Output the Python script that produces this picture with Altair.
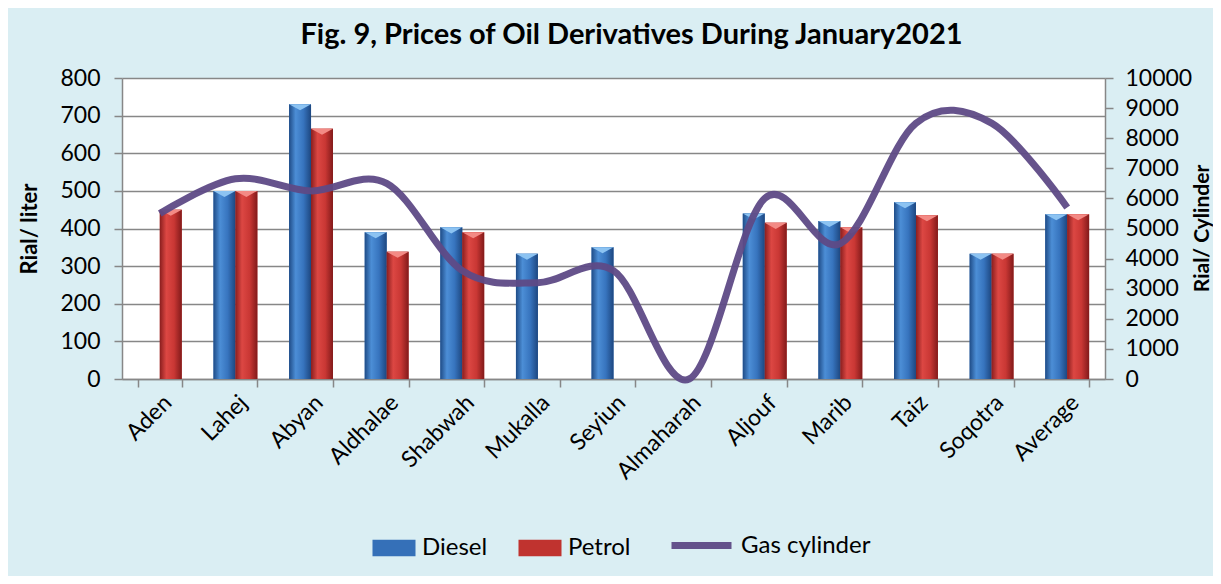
import altair as alt
import pandas as pd

categories = ["Aden", "Lahej", "Abyan", "Aldhalae", "Shabwah", "Mukalla", "Seyiun",
              "Almaharah", "Aljouf", "Marib", "Taiz", "Soqotra", "Average"]
diesel = [None, 500, 730, 390, 403, 333, 350, None, 440, 420, 470, 333, 438]
petrol = [450, 500, 665, 338, 390, None, None, None, 415, 403, 435, 333, 438]
gas = [5500, 6650, 6250, 6500, 3600, 3200, 3600, 0, 6000, 4500, 8500, 8500, 5700]
series_names = ["Diesel", "Petrol"]
left_ticks = [0, 100, 200, 300, 400, 500, 600, 700, 800]
right_ticks = [0, 1000, 2000, 3000, 4000, 5000, 6000, 7000, 8000, 9000, 10000]

rows = []
for c, d, p in zip(categories, diesel, petrol):
    if d is not None:
        rows.append({"cat": c, "series": "Diesel", "value": d})
    if p is not None:
        rows.append({"cat": c, "series": "Petrol", "value": p})
bars_df = pd.DataFrame(rows)
gas_df = pd.DataFrame({"cat": categories, "gas": gas, "series": "Gas cylinder"})

FONT = "Lato"
GRID = "#878787"
LBL = 23

x_enc = alt.X("cat:N", sort=categories,
              scale=alt.Scale(paddingInner=0.42, paddingOuter=0.21),
              axis=alt.Axis(title=None, labelAngle=315, labelFontSize=LBL, labelFont=FONT,
                            labelColor="black", tickBand="extent", tickSize=8,
                            labelPadding=4, domainColor=GRID, tickColor=GRID,
                            domainWidth=1.5, tickWidth=1.5, grid=False))
xoff = alt.XOffset("series:N", scale=alt.Scale(domain=series_names, paddingInner=0, paddingOuter=0))
y_left = alt.Y("value:Q", scale=alt.Scale(domain=[0, 800], nice=False),
               axis=alt.Axis(title="Rial/ liter", values=left_ticks, labelFontSize=LBL,
                             labelFont=FONT, labelColor="black", titleFont=FONT,
                             titleFontSize=22, titleFontWeight="bold", titleColor="black",
                             titlePadding=18, tickSize=8, labelPadding=14,
                             domainColor=GRID, tickColor=GRID, gridColor=GRID,
                             gridWidth=1.5, domainWidth=1.5, tickWidth=1.5))

base = alt.Chart(bars_df)

solid = base.mark_bar().encode(
    x=x_enc, xOffset=xoff, y=y_left,
    color=alt.Color("series:N", scale=alt.Scale(domain=series_names, range=["#3570B8", "#C0332F"]),
                    legend=alt.Legend(title=None, orient="none", legendX=250, legendY=448,
                                      direction="horizontal", labelFontSize=24, labelFont=FONT,
                                      labelColor="black",
                                      symbolType="M-1,-0.38h2v0.76h-2z", symbolSize=1850,
                                      symbolOpacity=1, symbolStrokeWidth=0,
                                      labelOffset=6, columnPadding=30))
)

blue_grad = alt.Gradient(gradient="linear", x1=0, x2=1, y1=0, y2=0,
                         stops=[alt.GradientStop(offset=0, color="#1F4C87"),
                                alt.GradientStop(offset=0.3, color="#4C8ED6"),
                                alt.GradientStop(offset=0.65, color="#3774BE"),
                                alt.GradientStop(offset=1, color="#1D4780")])
red_grad = alt.Gradient(gradient="linear", x1=0, x2=1, y1=0, y2=0,
                        stops=[alt.GradientStop(offset=0, color="#8A1E1E"),
                               alt.GradientStop(offset=0.3, color="#DC4743"),
                               alt.GradientStop(offset=0.65, color="#C93734"),
                               alt.GradientStop(offset=1, color="#821A1A")])

grad_blue = base.transform_filter(alt.datum.series == "Diesel").mark_bar(fill=blue_grad).encode(
    x=x_enc, xOffset=xoff, y=y_left)
grad_red = base.transform_filter(alt.datum.series == "Petrol").mark_bar(fill=red_grad).encode(
    x=x_enc, xOffset=xoff, y=y_left)

tri = base.mark_point(shape="M-1,0L1,0L0,0.55Z", filled=True, size=480, opacity=1,
                      strokeWidth=0).encode(
    x=x_enc, xOffset=xoff, y=y_left,
    fill=alt.Fill("series:N", scale=alt.Scale(domain=series_names, range=["#8CC3F2", "#F38A85"]),
                  legend=None))

bars = alt.layer(solid, grad_blue, grad_red, tri)

line = alt.Chart(gas_df).mark_line(interpolate="cardinal", strokeWidth=7, opacity=0.95).encode(
    x=alt.X("cat:N", sort=categories),
    y=alt.Y("gas:Q", scale=alt.Scale(domain=[0, 10000], nice=False),
            axis=alt.Axis(title="Rial/ Cylinder", orient="right", values=right_ticks,
                          format="d",
                          labelFontSize=LBL, labelFont=FONT, labelColor="black",
                          titleFont=FONT, titleFontSize=21, titleFontWeight="bold",
                          titleColor="black", titleAngle=270, titleX=97, titleY=150,
                          titleAlign="center", titleBaseline="middle",
                          tickSize=8, labelPadding=12, grid=False,
                          domainColor=GRID, tickColor=GRID, domainWidth=1.5, tickWidth=1.5)),
    stroke=alt.Stroke("series:N", scale=alt.Scale(domain=["Gas cylinder"], range=["#5E4A86"]),
                      legend=alt.Legend(title=None, orient="none", legendX=546, legendY=434,
                                        labelFontSize=24, labelFont=FONT, labelColor="black",
                                        symbolType="stroke", symbolSize=3600,
                                        symbolStrokeWidth=7, labelOffset=6))
)

chart = alt.layer(bars, line).resolve_scale(y="independent", color="independent").properties(
    width=983, height=301,
    autosize=alt.AutoSizeParams(type="none"),
    padding={"left": 114, "top": 70, "right": 108, "bottom": 197},
    background="#DAEEF3",
    title=alt.TitleParams("Fig. 9, Prices of Oil Derivatives During January2021",
                          font=FONT, fontSize=29, fontWeight="bold", color="black",
                          anchor="middle", offset=17, dx=18),
).configure_view(fill="white", stroke=None)

chart.save("out.html", embed_options={"renderer": "svg", "actions": False})
